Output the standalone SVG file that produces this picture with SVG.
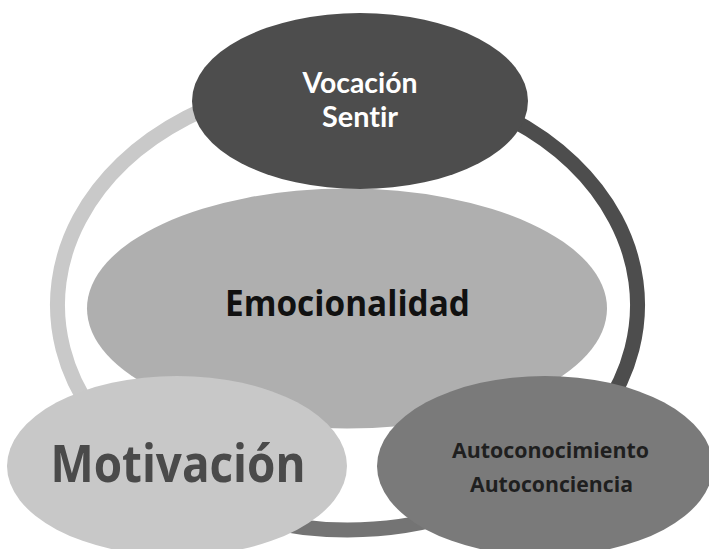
<svg xmlns="http://www.w3.org/2000/svg" width="709" height="549" viewBox="0 0 709 549">
<style>
.ring{fill:none;stroke-width:15}
.lbl{font-family:"Open Sans","Liberation Sans",sans-serif;font-weight:bold;text-anchor:middle;font-variant-ligatures:none;font-feature-settings:"liga" 0,"dlig" 0}
.top{font-family:Lato,"Open Sans","Liberation Sans",sans-serif}
</style>
<rect width="709" height="549" fill="#ffffff"/>
<g id="connectors">
<path class="ring" stroke="#c9c9c9" d="M 142.4 464.1 A 290 225 0 0 1 347.5 80"/>
<path class="ring" stroke="#4d4d4d" d="M 347.5 80 A 290 225 0 0 1 552.6 464.1"/>
<path class="ring" stroke="#747474" d="M 552.6 464.1 A 290 225 0 0 1 142.4 464.1"/>
</g>
<g id="node-emocionalidad">
<ellipse cx="347" cy="308.5" rx="260" ry="120" fill="#afafaf"/>
<text class="lbl" x="347.5" y="316" font-size="36" fill="#111111" textLength="245" lengthAdjust="spacingAndGlyphs">Emocionalidad</text>
</g>
<g id="node-vocacion">
<ellipse cx="360" cy="101" rx="168" ry="88" fill="#4d4d4d"/>
<text class="lbl top" x="360" y="93" font-size="28" fill="#ffffff" textLength="115" lengthAdjust="spacingAndGlyphs">Vocación</text>
<text class="lbl top" x="360" y="127" font-size="28" fill="#ffffff" textLength="76" lengthAdjust="spacingAndGlyphs">Sentir</text>
</g>
<g id="node-motivacion">
<ellipse cx="177" cy="466" rx="170" ry="90" fill="#c8c8c8"/>
<text class="lbl" x="178" y="482" font-size="52" fill="#4a4a4a" textLength="255" lengthAdjust="spacingAndGlyphs">Motivación</text>
</g>
<g id="node-autoconocimiento">
<ellipse cx="545" cy="466" rx="168" ry="90" fill="#7a7a7a"/>
<text class="lbl" x="550.5" y="458" font-size="22" fill="#1f1f1f" textLength="197" lengthAdjust="spacingAndGlyphs">Autoconocimiento</text>
<text class="lbl" x="551.5" y="492" font-size="22" fill="#1f1f1f" textLength="163" lengthAdjust="spacingAndGlyphs">Autoconciencia</text>
</g>
</svg>
